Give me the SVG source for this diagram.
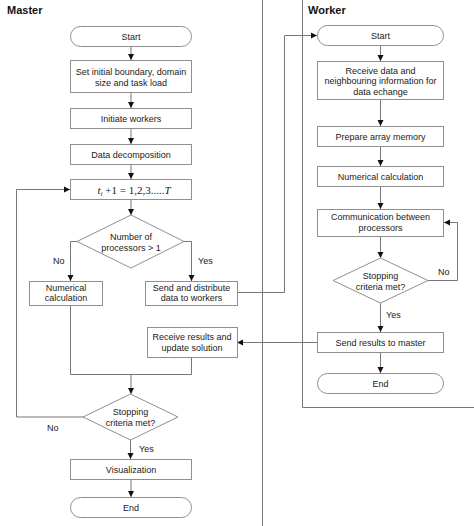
<svg xmlns="http://www.w3.org/2000/svg" width="474" height="526" viewBox="0 0 474 526">
<defs>
<marker id="ah" markerUnits="userSpaceOnUse" markerWidth="7" markerHeight="7" refX="6" refY="3.5" orient="auto">
<path d="M0,0.5 L6,3.5 L0,6.5 Z" fill="#111"/>
</marker>
</defs>
<style>
.b{fill:#fff;stroke:#8f8f8f;stroke-width:1}
.t{font-family:"Liberation Sans",Arial,sans-serif;font-size:9px;fill:#1a1a1a;text-anchor:middle}
.l{font-family:"Liberation Sans",Arial,sans-serif;font-size:9px;fill:#1a1a1a}
.h{font-family:"Liberation Sans",Arial,sans-serif;font-size:11px;font-weight:bold;fill:#111}
.c{fill:none;stroke:#777;stroke-width:1}
.a{marker-end:url(#ah)}
.f{font-family:"Liberation Serif","Times New Roman",serif;font-size:11px;fill:#1a1a1a;text-anchor:middle}
</style>
<rect width="474" height="526" fill="#fff"/>
<g id="frames">
<line x1="262.5" y1="0" x2="262.5" y2="526" class="c" stroke="#999"/>
<path d="M302.5,0 V407.5 H474" class="c"/>
<text x="7" y="14" class="h">Master</text>
<text x="308" y="14" class="h">Worker</text>
</g>
<g id="connectors">
<path class="c a" d="M131,46 V60"/>
<path class="c a" d="M131,93 V108"/>
<path class="c a" d="M131,128 V144"/>
<path class="c a" d="M131,164 V179"/>
<path class="c a" d="M131,199 V215"/>
<path class="c a" d="M77,241.5 H70.5 V281"/>
<path class="c a" d="M184,241.5 H191.5 V281"/>
<path class="c a" d="M237,292.5 H284.5 V35.5 H317"/>
<path class="c" d="M70.5,305 V374.5 H191.5 V357"/>
<path class="c a" d="M131,374.5 V394"/>
<path class="c a" d="M83,417 H16.5 V189.5 H70"/>
<path class="c a" d="M130.5,440 V459"/>
<path class="c a" d="M131,479 V497"/>
<path class="c a" d="M380.5,45 V61"/>
<path class="c a" d="M380.5,100 V126"/>
<path class="c a" d="M380.5,146 V166"/>
<path class="c a" d="M380.5,186 V209"/>
<path class="c a" d="M380.5,236 V258"/>
<path class="c a" d="M428,280.5 H457.5 V222.5 H444"/>
<path class="c a" d="M380.5,303 V332"/>
<path class="c a" d="M380.5,352 V373"/>
<path class="c a" d="M317,342.5 H237"/>
<text x="53" y="263.5" class="l">No</text>
<text x="198" y="263.5" class="l">Yes</text>
<text x="47" y="431" class="l">No</text>
<text x="139" y="452" class="l">Yes</text>
<text x="438" y="275" class="l">No</text>
<text x="386" y="318" class="l">Yes</text>
</g>
<g id="m_start"><rect class="b" x="70.5" y="26.5" width="121" height="20" rx="10"/><text class="t" x="131" y="39.5">Start</text></g>
<g id="m_init"><rect class="b" x="70.5" y="60.5" width="121" height="32"/><text class="t" x="131" y="75">Set initial boundary, domain</text><text class="t" x="131" y="85.5">size and task load</text></g>
<g id="m_workers"><rect class="b" x="70.5" y="108.5" width="121" height="20"/><text class="t" x="131" y="121.5">Initiate workers</text></g>
<g id="m_decomp"><rect class="b" x="70.5" y="144.5" width="121" height="20"/><text class="t" x="131" y="157.5">Data decomposition</text></g>
<g id="m_loop"><rect class="b" x="70.5" y="179.5" width="121" height="20"/><text class="f" x="134" y="193.5"><tspan font-style="italic">t</tspan><tspan font-style="italic" font-size="7" dy="2">i</tspan><tspan dy="-2"> +1 = 1,2,3.....</tspan><tspan font-style="italic">T</tspan></text></g>
<g id="m_dec1"><polygon class="b" points="131,215 184,241.5 131,268 77,241.5"/><text class="t" x="131" y="239.5">Number of</text><text class="t" x="131" y="250.5">processors &gt; 1</text></g>
<g id="m_numcalc"><rect class="b" x="29.5" y="281.5" width="73" height="24"/><text class="t" x="66" y="290.5">Numerical</text><text class="t" x="66" y="301">calculation</text></g>
<g id="m_send"><rect class="b" x="145.5" y="281.5" width="92" height="24"/><text class="t" x="191.5" y="290.5">Send and distribute</text><text class="t" x="191.5" y="301">data to workers</text></g>
<g id="m_recv"><rect class="b" x="147.5" y="327.5" width="90" height="30"/><text class="t" x="192" y="340">Receive results and</text><text class="t" x="192" y="350.5">update solution</text></g>
<g id="m_dec2"><polygon class="b" points="130.5,394 178,417 130.5,440 83,417"/><text class="t" x="130.5" y="415">Stopping</text><text class="t" x="130.5" y="426">criteria met?</text></g>
<g id="m_vis"><rect class="b" x="70.5" y="459.5" width="121" height="20"/><text class="t" x="131" y="472.5">Visualization</text></g>
<g id="m_end"><rect class="b" x="70.5" y="497.5" width="121" height="20" rx="10"/><text class="t" x="131" y="510.5">End</text></g>
<g id="w_start"><rect class="b" x="317.5" y="25.5" width="126" height="20" rx="10"/><text class="t" x="380.5" y="38.5">Start</text></g>
<g id="w_recv"><rect class="b" x="317.5" y="61.5" width="126" height="38"/><text class="t" x="380.5" y="73.5">Receive data and</text><text class="t" x="380.5" y="84">neighbouring information for</text><text class="t" x="380.5" y="94.5">data echange</text></g>
<g id="w_prep"><rect class="b" x="317.5" y="126.5" width="126" height="20"/><text class="t" x="380.5" y="139.5">Prepare array memory</text></g>
<g id="w_num"><rect class="b" x="317.5" y="166.5" width="126" height="20"/><text class="t" x="380.5" y="179.5">Numerical calculation</text></g>
<g id="w_comm"><rect class="b" x="317.5" y="209.5" width="126" height="27"/><text class="t" x="380.5" y="220">Communication between</text><text class="t" x="380.5" y="231">processors</text></g>
<g id="w_dec"><polygon class="b" points="380.5,258 428,280.5 380.5,303 333,280.5"/><text class="t" x="380.5" y="278.5">Stopping</text><text class="t" x="380.5" y="290">criteria met?</text></g>
<g id="w_send"><rect class="b" x="317.5" y="332.5" width="126" height="20"/><text class="t" x="380.5" y="345.5">Send results to master</text></g>
<g id="w_end"><rect class="b" x="317.5" y="373.5" width="126" height="20" rx="10"/><text class="t" x="380.5" y="386.5">End</text></g>
</svg>
